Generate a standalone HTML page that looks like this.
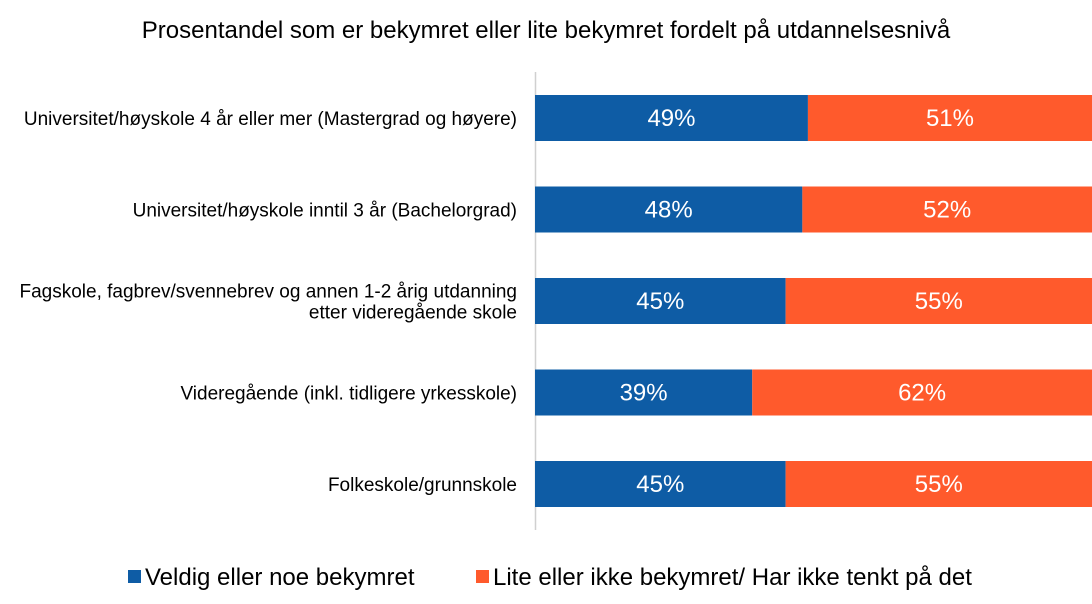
<!DOCTYPE html>
<html><head><meta charset="utf-8"><style>
html,body{margin:0;padding:0;background:#fff;}
svg{display:block;font-family:"Liberation Sans",Arial,sans-serif;}
</style></head><body>
<svg id="chart" width="1092" height="604" viewBox="0 0 1092 604">
<text x="546" y="38" text-anchor="middle" font-size="24" fill="#000">Prosentandel som er bekymret eller lite bekymret fordelt på utdannelsesnivå</text>
<line x1="535.5" y1="72" x2="535.5" y2="530" stroke="#d0d0d0" stroke-width="1.5"/>
<g id="bars"></g>
<g>
<rect x="128" y="570" width="13" height="13" fill="#0e5ca5"/>
<text x="145" y="585" font-size="24" fill="#000">Veldig eller noe bekymret</text>
<rect x="476" y="570" width="13" height="13" fill="#ff5a2c"/>
<text x="493" y="585" font-size="24" fill="#000">Lite eller ikke bekymret/ Har ikke tenkt på det</text>
</g>
</svg>
<script>
const categories = [
 ["Universitet/høyskole 4 år eller mer (Mastergrad og høyere)"],
 ["Universitet/høyskole inntil 3 år (Bachelorgrad)"],
 ["Fagskole, fagbrev/svennebrev og annen 1-2 årig utdanning","etter videregående skole"],
 ["Videregående (inkl. tidligere yrkesskole)"],
 ["Folkeskole/grunnskole"]
];
const worried = [49, 48, 45, 39, 45];
const notWorried = [51, 52, 55, 62, 55];

const NS = "http://www.w3.org/2000/svg";
const g = document.getElementById("bars");
const x0 = 535, pxPer = 557/100;
const xScale = v => v * pxPer;
const yCenter = i => 118 + i * 91.5;
const barH = 46;
function mk(tag, attrs){const e=document.createElementNS(NS,tag);for(const k in attrs)e.setAttribute(k,attrs[k]);return e;}
categories.forEach((lines, i) => {
  const yc = yCenter(i);
  const wb = xScale(worried[i]), wo = xScale(notWorried[i]);
  const r1 = mk("rect",{x:x0,y:yc-barH/2,width:wb,height:barH,fill:"#0e5ca5"});
  
  
  g.appendChild(r1);
  const r2 = mk("rect",{x:x0+wb,y:yc-barH/2,width:wo,height:barH,fill:"#ff5a2c"});
  
  
  g.appendChild(r2);
  const t1 = mk("text",{x:x0+wb/2,y:yc+8,"text-anchor":"middle","font-size":"24",fill:"#fff"});
  t1.textContent = worried[i] + "%";
  
  
  g.appendChild(t1);
  const cx2 = Math.min(x0+wb+wo/2, x0+wb+(1092-x0-wb)/2);
  const t2 = mk("text",{x:cx2,y:yc+8,"text-anchor":"middle","font-size":"24",fill:"#fff"});
  t2.textContent = notWorried[i] + "%";
  
  
  g.appendChild(t2);
  const n = lines.length;
  lines.forEach((ln, j) => {
    const t = mk("text",{x:517,y:yc+7+(j-(n-1)/2)*21,"text-anchor":"end","font-size":"19",fill:"#000"});
    t.textContent = ln;
    
    
    g.appendChild(t);
  });
});
</script>
</body></html>
